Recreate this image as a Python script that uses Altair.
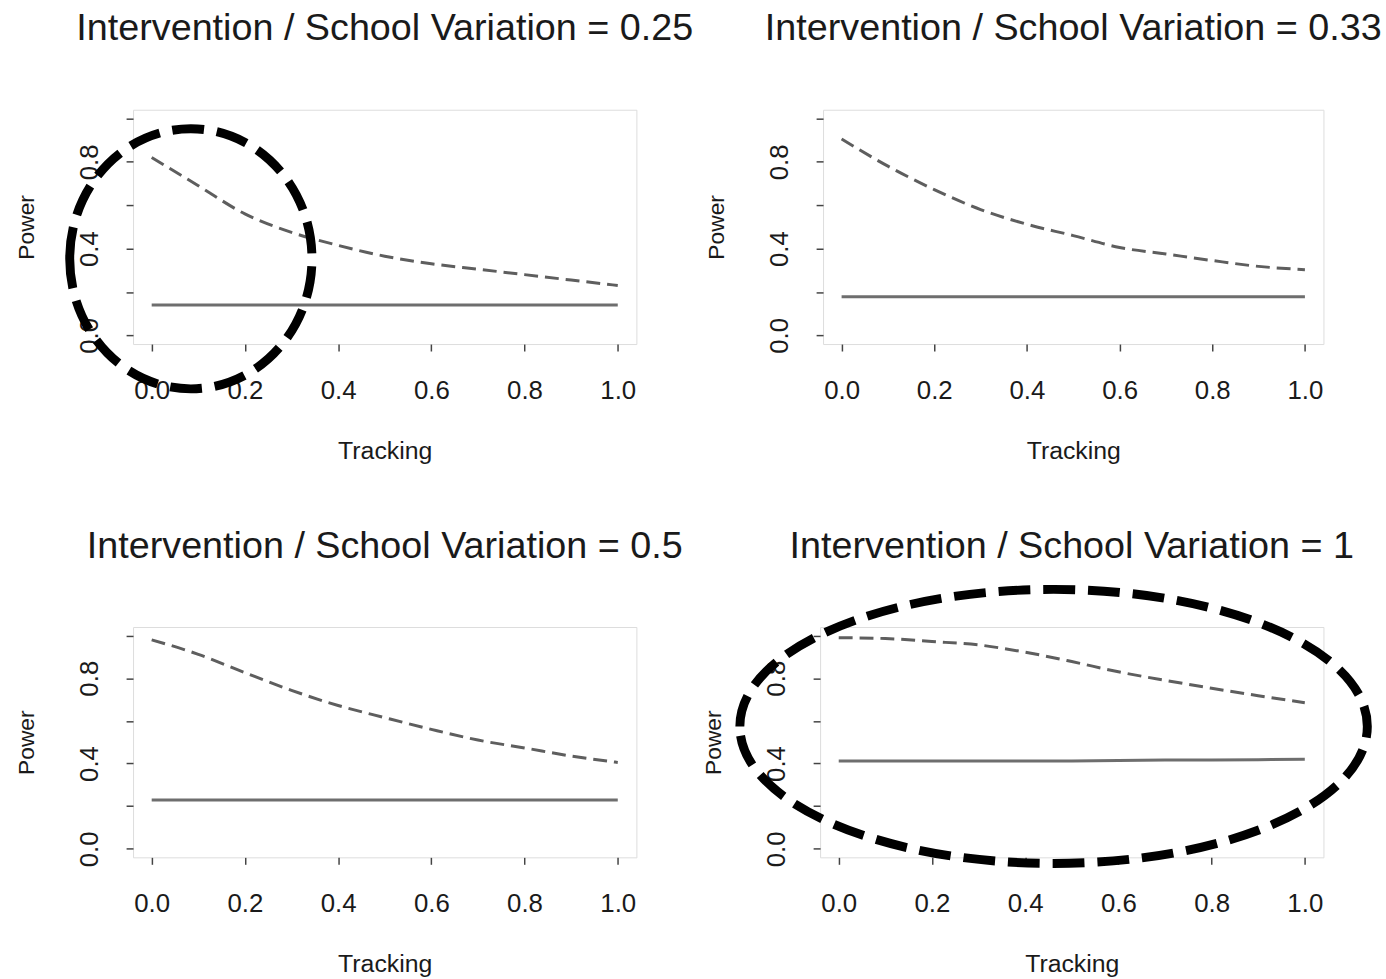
import altair as alt
import pandas as pd

tracking = [0.0, 0.1, 0.2, 0.3, 0.4, 0.5, 0.6, 0.7, 0.8, 0.9, 1.0]

titles = [
    "Intervention / School Variation = 0.25",
    "Intervention / School Variation = 0.33",
    "Intervention / School Variation = 0.5",
    "Intervention / School Variation = 1",
]

dashed_025 = [0.82, 0.69, 0.56, 0.475, 0.415, 0.365, 0.33, 0.305, 0.28, 0.255, 0.23]
dashed_033 = [0.905, 0.78, 0.672, 0.58, 0.512, 0.46, 0.405, 0.375, 0.345, 0.318, 0.303]
dashed_05 = [0.98, 0.912, 0.826, 0.743, 0.672, 0.615, 0.56, 0.51, 0.473, 0.435, 0.405]
dashed_1 = [0.99, 0.986, 0.972, 0.956, 0.922, 0.878, 0.83, 0.79, 0.753, 0.718, 0.685]

solid_025 = [0.14] * 11
solid_033 = [0.178] * 11
solid_05 = [0.229] * 11
solid_1 = [0.412, 0.412, 0.412, 0.412, 0.412, 0.412, 0.414, 0.416, 0.416, 0.418, 0.42]

dashed = [dashed_025, dashed_033, dashed_05, dashed_1]
solid = [solid_025, solid_033, solid_05, solid_1]

# hand-drawn dashed ellipses (annotation): centre in data units, radii in px
ellipse_panel = [0, 3]
ellipse_cx = [0.084, 0.461]
ellipse_cy = [0.353, 0.574]
ellipse_rx = [122, 316]
ellipse_ry = [131, 138]

# title offsets (panel 4's ellipse reaches above its plot area, which lifts the title)
title_offset = [62, 62, 62, 6]

FONT = "Liberation Sans"
ticks = [0.0, 0.2, 0.4, 0.6, 0.8, 1.0]
dom = [-0.04, 1.04]


def panel(i, w, h):
    df_d = pd.DataFrame({"Tracking": tracking, "Power": dashed[i]})
    df_s = pd.DataFrame({"Tracking": tracking, "Power": solid[i]})
    xax = alt.Axis(values=ticks, format=".1f", title="Tracking", grid=False, domain=False,
                   tickSize=7, tickWidth=1.5, tickColor="#444", labelPadding=27,
                   labelFontSize=26, labelColor="#1a1a1a", titleFontSize=25,
                   titleFontWeight="normal", titleColor="#1a1a1a", titlePadding=35,
                   labelFont=FONT, titleFont=FONT)
    yax = alt.Axis(values=ticks, title="Power", grid=False, domain=False,
                   labelExpr="(round(datum.value*10) % 4 == 0) ? format(datum.value, '.1f') : ''",
                   labelAngle=270, labelAlign="center", labelBaseline="bottom",
                   tickSize=7, tickWidth=1.5, tickColor="#444", labelPadding=24,
                   labelFontSize=26, labelColor="#1a1a1a", titleFontSize=23,
                   titleFontWeight="normal", titleColor="#1a1a1a", titlePadding=38,
                   labelFont=FONT, titleFont=FONT)
    x = alt.X("Tracking:Q", scale=alt.Scale(domain=dom, nice=False, zero=False), axis=xax)
    y = alt.Y("Power:Q", scale=alt.Scale(domain=dom, nice=False, zero=False), axis=yax)
    dl = alt.Chart(df_d).mark_line(color="#5e5e5e", strokeWidth=3, strokeDash=[14, 7],
                                   interpolate="monotone").encode(x=x, y=y)
    sl = alt.Chart(df_s).mark_line(color="#6e6e6e", strokeWidth=3).encode(x=x, y=y)
    layers = [dl, sl]
    if i in ellipse_panel:
        k = ellipse_panel.index(i)
        rx, ry = ellipse_rx[k], ellipse_ry[k]
        r = max(rx, ry)
        a, b = rx / r, ry / r
        path = (f"M {-a:.4f} 0 A {a:.4f} {b:.4f} 0 1 1 {a:.4f} 0 "
                f"A {a:.4f} {b:.4f} 0 1 1 {-a:.4f} 0 Z")
        df_e = pd.DataFrame({"Tracking": [ellipse_cx[k]], "Power": [ellipse_cy[k]]})
        el = alt.Chart(df_e).mark_point(shape=path, filled=False, stroke="#000000",
                                        strokeWidth=9, strokeDash=[32, 13], opacity=1,
                                        size=(2 * r) ** 2).encode(x=x, y=y)
        layers.append(el)
    return alt.layer(*layers).properties(
        width=w, height=h,
        title=alt.TitleParams(titles[i], fontSize=38, font=FONT, fontWeight="normal",
                              color="#1a1a1a", anchor="middle", offset=title_offset[i]),
    )


row1 = alt.hconcat(panel(0, 507, 236), panel(1, 504, 236), spacing=11)
row2 = alt.hconcat(panel(2, 507, 232), panel(3, 507, 232), spacing=18)
chart = alt.vconcat(row1, row2, spacing=63).properties(
    padding={"left": 15, "top": 6, "right": 0, "bottom": 0}
).configure_view(stroke="#555555", strokeWidth=2).configure(background="white")

chart.save("out.html", embed_options={"renderer": "svg", "actions": False})
